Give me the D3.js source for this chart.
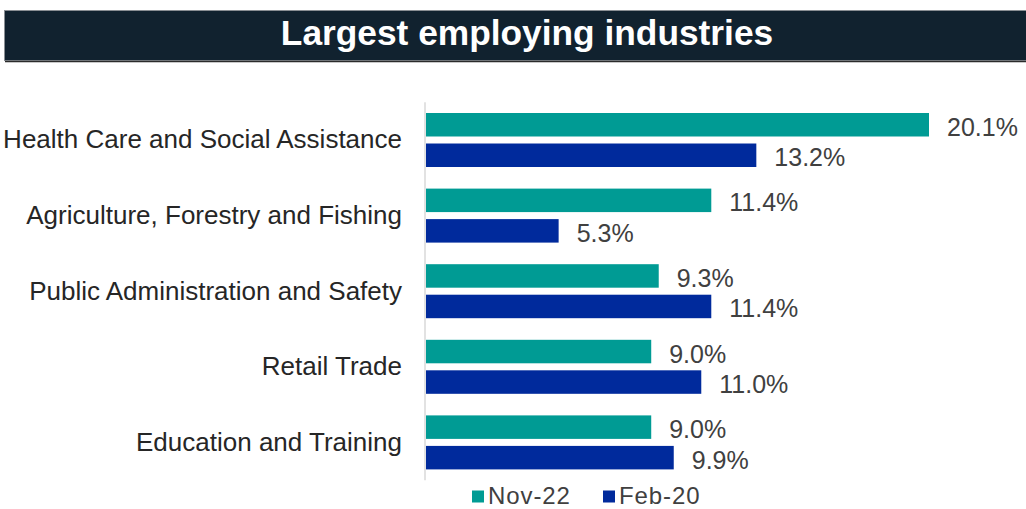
<!DOCTYPE html>
<html>
<head>
<meta charset="utf-8">
<script src="https://cdn.jsdelivr.net/npm/d3@7"></script>
<style>
  html, body { margin: 0; padding: 0; background: #ffffff; }
  svg { display: block; }
</style>
</head>
<body>
<svg id="chart" width="1026" height="509"></svg>
<script>
// Share of employment by industry (%)
const categories = [
  "Health Care and Social Assistance",
  "Agriculture, Forestry and Fishing",
  "Public Administration and Safety",
  "Retail Trade",
  "Education and Training"
];
const seriesNames = ["Nov-22", "Feb-20"];
const nov22 = [20.1, 11.4, 9.3, 9.0, 9.0];
const feb20 = [13.2, 5.3, 11.4, 11.0, 9.9];
const colors = ["#009b94", "#002a9c"];

const svg = d3.select("#chart");
const W = 1026, H = 509;
const font = "Liberation Sans, Arial, Helvetica, sans-serif";

// Title banner
svg.append("rect")
  .attr("x", 4.5).attr("y", 10.5)
  .attr("width", W).attr("height", 50)
  .attr("fill", "#11222f")
  .attr("stroke", "#8a8f94").attr("stroke-width", 1);
svg.append("line")
  .attr("x1", 5).attr("x2", W).attr("y1", 61.5).attr("y2", 61.5)
  .attr("stroke", "#2b2b2b").attr("stroke-width", 1.5);
svg.append("text")
  .attr("x", 527).attr("y", 45)
  .attr("text-anchor", "middle")
  .attr("fill", "#ffffff")
  .attr("font-family", font).attr("font-weight", "bold").attr("font-size", 35.3)
  .text("Largest employing industries");

// Scales
const x0 = 426;
const x = d3.scaleLinear().domain([0, 20.1]).range([x0, 929]);
const y = d3.scaleBand().domain(categories).range([102.2, 480.2]).paddingInner(0).paddingOuter(0);
const inner = d3.scaleBand().domain(seriesNames).range([10.8, 64.8]).paddingInner(0.23).paddingOuter(0);

const rows = categories.map((c, i) => ({ cat: c, vals: [nov22[i], feb20[i]] }));

const g = svg.append("g");
const grp = g.selectAll("g.grp").data(rows).join("g")
  .attr("class", "grp")
  .attr("transform", d => `translate(0,${y(d.cat)})`);

grp.selectAll("rect").data(d => d.vals.map((v, k) => ({ v, k })))
  .join("rect")
  .attr("x", x0)
  .attr("y", d => inner(seriesNames[d.k]))
  .attr("width", d => x(d.v) - x0)
  .attr("height", inner.bandwidth())
  .attr("fill", d => colors[d.k]);

grp.selectAll("text.val").data(d => d.vals.map((v, k) => ({ v, k })))
  .join("text")
  .attr("class", "val")
  .attr("x", d => x(d.v) + 18)
  .attr("y", d => inner(seriesNames[d.k]) + inner.bandwidth() / 2 + 2)
  .attr("dominant-baseline", "central")
  .attr("fill", "#404040")
  .attr("font-family", font).attr("font-size", 25)
  .text(d => d.v.toFixed(1) + "%");

// Category axis
const yAxis = d3.axisLeft(y).tickSize(0).tickPadding(23);
const ax = svg.append("g").attr("transform", `translate(${x0 - 1},0)`).call(yAxis);
ax.select(".domain").attr("stroke", "#d9d9d9").attr("stroke-width", 1.5)
  .attr("d", `M0,${y.range()[0]}V${y.range()[1]}`);
ax.selectAll(".tick text")
  .attr("fill", "#262626")
  .attr("font-family", font).attr("font-size", 26);

// Legend
const legend = svg.append("g").attr("transform", "translate(472,496)");
const legX = [0, 131];
seriesNames.forEach((s, i) => {
  const lg = legend.append("g").attr("transform", `translate(${legX[i]},0)`);
  lg.append("rect").attr("x", 0).attr("y", -5.5).attr("width", 12).attr("height", 12).attr("fill", colors[i]);
  lg.append("text").attr("x", 16).attr("y", 7.5)
    .attr("fill", "#404040")
    .attr("font-family", font).attr("font-size", 24)
    .attr("letter-spacing", 0.9)
    .text(s);
});
</script>
</body>
</html>
